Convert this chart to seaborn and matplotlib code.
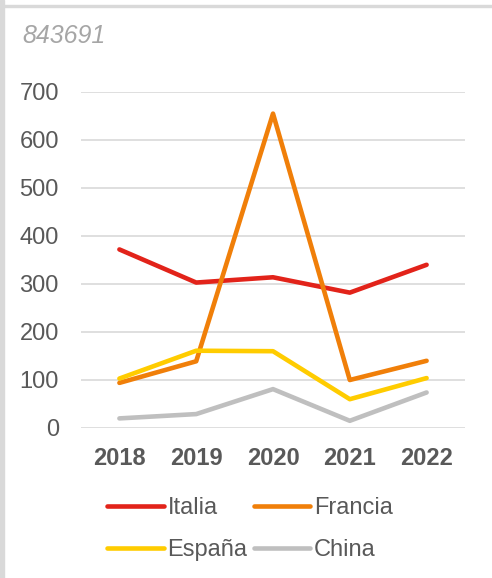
import pandas as pd
import seaborn as sns
import matplotlib.pyplot as plt
from matplotlib.patches import Rectangle

years = [2018, 2019, 2020, 2021, 2022]
italia = [372, 303, 314, 282, 340]
francia = [94, 139, 655, 100, 140]
espana = [103, 161, 160, 60, 104]
china = [20, 29, 81, 15, 74]
countries = ['Italia', 'Francia', 'España', 'China']
colors = ['#E2231A', '#F07F09', '#FFCC00', '#BFBFBF']

df = pd.DataFrame({'Italia': italia, 'Francia': francia, 'España': espana, 'China': china}, index=years)
long_df = df.reset_index(names='year').melt(id_vars='year', var_name='pais', value_name='valor')

sns.set_theme(style='white')
plt.rcParams['font.family'] = ['Liberation Sans', 'DejaVu Sans']

fig = plt.figure(figsize=(4.92, 5.78), dpi=100)
ax = fig.add_axes([81/492, 150/578, 384/492, 336/578])

# frame of the chart box
fig.patches.append(Rectangle((0, 0), 4/492, 1, transform=fig.transFigure, color='#D9D9D9', zorder=0))
fig.patches.append(Rectangle((0, 1 - 7/578), 1, 2/578, transform=fig.transFigure, color='#D9D9D9', zorder=0))

sns.lineplot(data=long_df, x='year', y='valor', hue='pais', hue_order=countries,
             palette=colors, linewidth=3.3, ax=ax, legend=False)
for line in ax.lines:
    line.set_solid_capstyle('round')
    line.set_solid_joinstyle('round')

ax.set_xlim(2017.5, 2022.5)
ax.set_ylim(0, 700)
ax.set_yticks(range(0, 701, 100))
ax.set_xticks(years)
ax.set_xticklabels([str(y) for y in years], fontweight='bold')
ax.tick_params(axis='both', labelsize=17, colors='#595959', length=0)
ax.tick_params(axis='x', pad=14)
ax.tick_params(axis='y', pad=16)
ax.yaxis.grid(True, color='#D9D9D9', linewidth=1.2)
ax.set_axisbelow(True)
for s in ax.spines.values():
    s.set_visible(False)
ax.set_xlabel('')
ax.set_ylabel('')

fig.text(22/492, 1 - 36/578, '843691', fontsize=18, fontstyle='italic', color='#A6A6A6', va='center')

# legend fills column-wise, so order for rows Italia/Francia, España/China
order = [0, 2, 1, 3]
handles = [plt.Line2D([], [], color=colors[i], linewidth=3.3, solid_capstyle='round') for i in order]
labels = [countries[i] for i in order]
leg = fig.legend(handles, labels, loc='center', bbox_to_anchor=(250/492, 1 - 529/578), ncol=2,
                 frameon=False, fontsize=17, handlelength=2.4, handletextpad=0.15,
                 columnspacing=0.25, labelspacing=0.85)
for t in leg.get_texts():
    t.set_color('#595959')

fig.savefig('out.png', dpi=100, facecolor='white')
